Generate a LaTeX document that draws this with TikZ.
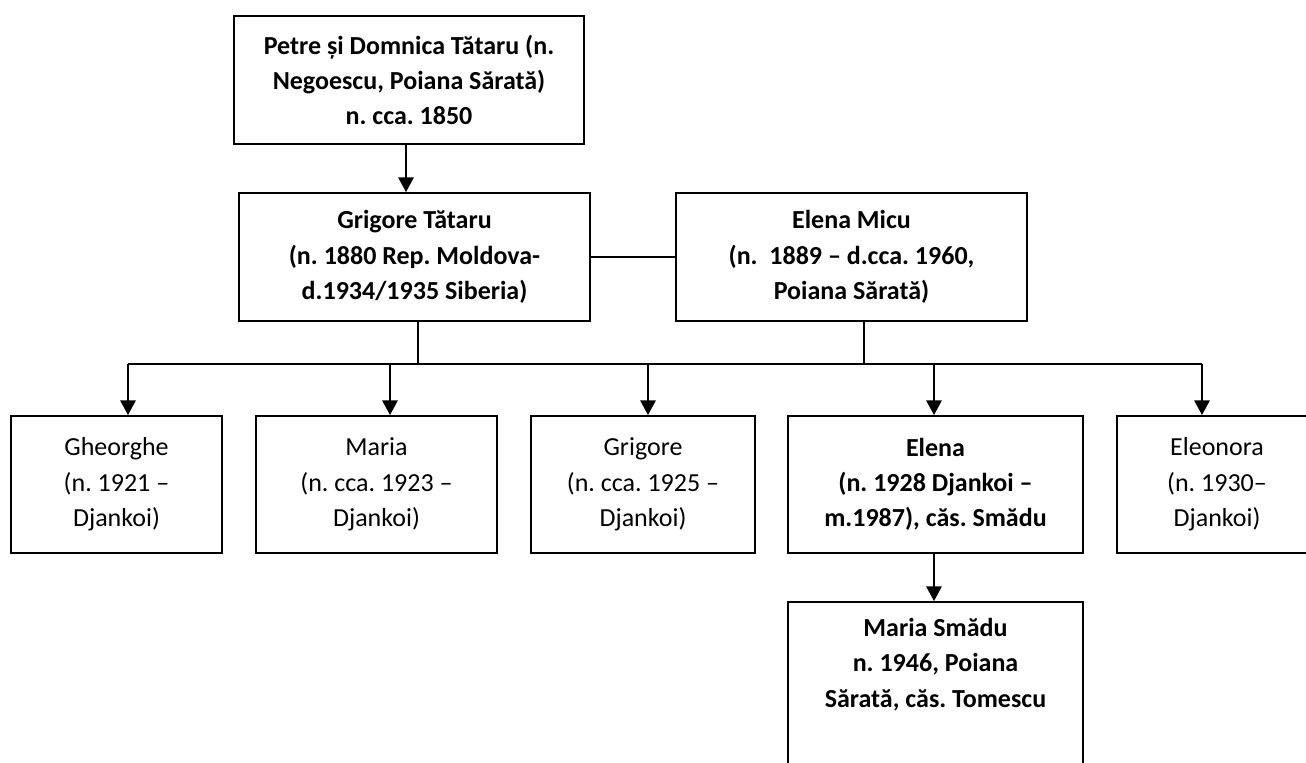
\documentclass[tikz,border=0pt]{standalone}
\usepackage{fontspec}
\setmainfont{Carlito}
\frenchspacing
\usetikzlibrary{arrows.meta}
\begin{document}
\begin{tikzpicture}[x=0.75pt,y=-0.75pt,
  box/.style={draw, line width=1.4pt, rectangle, inner sep=0pt, align=center,
    font=\fontsize{19.5}{26.5}\selectfont},
  boldbox/.style={box, font=\fontsize{19.5}{26.5}\selectfont\bfseries},
  plaintext/.style={inner sep=0pt, align=center, font=\fontsize{19.5}{26.5}\selectfont\bfseries},
  link/.style={line width=1.4pt},
  arr/.style={link, -{Triangle[length=11pt,width=11.5pt]}}]
\useasboundingbox (0,0) rectangle (1306,763);
\clip (0,0) rectangle (1306,763);

\node[boldbox, minimum width=262.5pt, minimum height=96pt] (tp) at (409,80)
  {Petre și Domnica Tătaru (n.\\Negoescu, Poiana Sărată)\\n. cca. 1850};
\node[boldbox, minimum width=263.25pt, minimum height=96pt] (grig) at (414.5,257)
  {Grigore Tătaru\\(n. 1880 Rep. Moldova-\\d.1934/1935 Siberia)};
\node[boldbox, minimum width=263.25pt, minimum height=96pt] (micu) at (851.5,257)
  {Elena Micu\\(n.\ \ 1889 – d.cca. 1960,\\Poiana Sărată)};

\node[box, minimum width=158.25pt, minimum height=102.75pt] (c1) at (116.5,484.5)
  {Gheorghe\\(n. 1921 –\\Djankoi)};
\node[box, minimum width=180.75pt, minimum height=102.75pt] (c2) at (376.5,484.5)
  {Maria\\(n. cca. 1923 –\\Djankoi)};
\node[box, minimum width=168pt, minimum height=102.75pt] (c3) at (643,484.5)
  {Grigore\\(n. cca. 1925 –\\Djankoi)};
\node[boldbox, minimum width=221.25pt, minimum height=102.75pt] (c4) at (935.5,484.5)
  {Elena\\(n. 1928 Djankoi –\\m.1987), căs. Smădu};
\node[box, minimum width=150pt, minimum height=102.75pt] (c5) at (1217,484.5)
  {Eleonora\\(n. 1930–\\Djankoi)};

\node[box, minimum width=221.25pt, minimum height=163.5pt] (ms) at (935.5,711) {};
\node[plaintext, anchor=north] (mst) at (935.5,618)
  {Maria Smădu\\n. 1946, Poiana\\Sărată, căs. Tomescu};

\coordinate (t1) at (406,0);
\coordinate (e1) at (934,0);
\coordinate (j1) at (418,364);
\coordinate (j2) at (864,364);
\coordinate (b1) at (128,364);
\coordinate (b2) at (390,364);
\coordinate (b3) at (648,364);
\coordinate (b4) at (934,364);
\coordinate (b5) at (1202,364);

\draw[arr] (t1 |- tp.south) -- (t1 |- grig.north);
\draw[link] (grig.east) -- (micu.west);
\draw[link] (j1 |- grig.south) -- (j1);
\draw[link] (j2 |- micu.south) -- (j2);
\draw[link] (b1) -- (b5);
\foreach \i in {1,...,5} {
  \draw[arr] (b\i) -- (b\i |- c\i.north);
}
\draw[arr] (e1 |- c4.south) -- (e1 |- ms.north);
\end{tikzpicture}
\end{document}
